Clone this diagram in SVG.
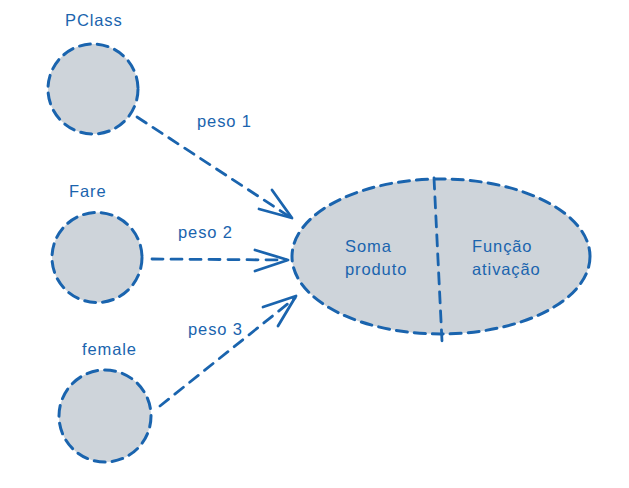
<svg xmlns="http://www.w3.org/2000/svg" width="629" height="488" viewBox="0 0 629 488">
<style>
.shape{fill:#ced4da;stroke:#1a64ae;stroke-width:3;stroke-dasharray:11 7;stroke-linecap:round}
.conn{fill:none;stroke:#1a64ae;stroke-width:2.8;stroke-dasharray:11 8;stroke-linecap:round}
.head{fill:none;stroke:#1a64ae;stroke-width:2.8;stroke-linecap:round;stroke-linejoin:round}
.lbl{font-family:"Liberation Sans",Arial,sans-serif;font-size:16.5px;fill:#1a64ae;letter-spacing:0.9px}
</style>
<rect width="629" height="488" fill="#ffffff"/>
<g id="node-pclass">
<circle class="shape" cx="93" cy="89" r="45"/>
<text class="lbl" x="65" y="26">PClass</text>
</g>
<g id="node-fare">
<circle class="shape" cx="97" cy="257.5" r="45"/>
<text class="lbl" x="69" y="197">Fare</text>
</g>
<g id="node-female">
<circle class="shape" cx="105" cy="416" r="46"/>
<text class="lbl" x="82" y="355">female</text>
</g>
<g id="node-neuron">
<ellipse class="shape" cx="441" cy="256.5" rx="149" ry="77.5"/>
<line class="conn" x1="434" y1="178" x2="442" y2="341"/>
<text class="lbl" x="345" y="252">Soma</text>
<text class="lbl" x="345" y="275">produto</text>
<text class="lbl" x="472" y="252">Função</text>
<text class="lbl" x="472" y="275">ativação</text>
</g>
<g id="connectors">
<line class="conn" x1="137" y1="117" x2="290" y2="217"/>
<polyline class="head" points="272,190 292,218 259,209"/>
<text class="lbl" x="197" y="127">peso 1</text>
<line class="conn" x1="152" y1="259" x2="286" y2="260"/>
<polyline class="head" points="255,250 288,260 255,271"/>
<text class="lbl" x="178" y="238">peso 2</text>
<line class="conn" x1="160" y1="406" x2="295" y2="298"/>
<polyline class="head" points="263,307 296,296 278,326"/>
<text class="lbl" x="188" y="335">peso 3</text>
</g>
</svg>
